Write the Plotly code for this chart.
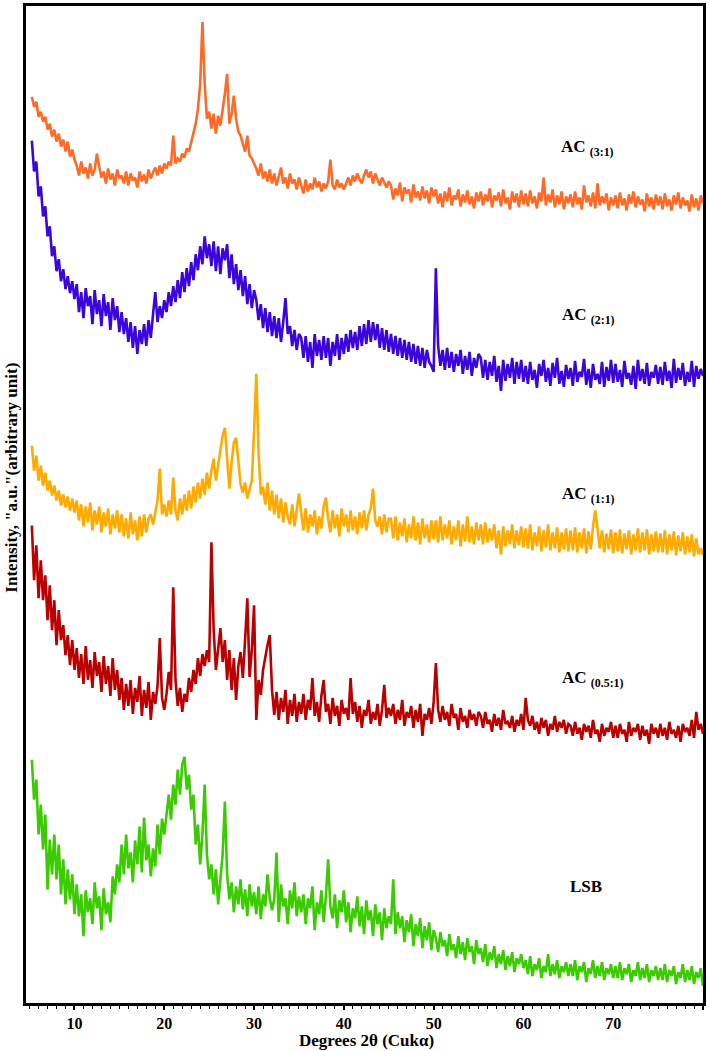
import plotly.graph_objects as go

# 2-theta sampling grid (degrees)
TWO_THETA_START = 5.25
TWO_THETA_STEP = 0.25

# Relative intensities (a.u.), one value per 0.25 deg, 5.25..80.0
ac_3_1 = [
    117,107,112,97,102,92,97,84,90,77,84,72,80,67,74,62,72,57,64,54,
    48,38,52,40,46,35,50,38,44,60,47,36,42,30,45,34,40,28,44,35,
    38,30,42,28,40,33,36,26,42,32,39,30,44,35,41,46,38,48,40,50,
    45,52,48,78,50,55,52,60,56,65,62,72,80,90,105,130,192,130,95,102,
    85,100,80,98,88,102,120,140,90,100,118,95,82,78,70,62,78,58,55,50,
    45,38,50,35,42,32,44,30,40,28,38,46,30,36,25,40,30,34,24,36,
    28,20,34,22,30,24,36,26,32,22,30,25,32,54,28,24,34,26,30,24,
    30,36,28,38,32,40,34,30,38,44,36,42,30,40,34,28,36,30,26,32,
    28,14,25,18,31,12,26,20,24,11,29,16,22,13,27,15,23,10,26,17,
    24,10,20,6,22,12,26,8,18,14,24,7,19,11,23,9,17,5,21,12,
    22,8,19,12,25,6,18,13,21,7,24,10,16,4,22,11,20,6,23,9,
    20,7,23,10,17,5,21,12,36,8,19,11,24,6,18,9,22,4,17,10,
    19,6,22,9,16,4,28,11,18,7,21,5,30,8,17,10,20,3,16,8,
    18,5,21,8,15,3,19,10,22,6,17,9,14,2,20,7,16,4,19,8,
    17,4,20,7,14,3,18,9,21,5,16,8,13,2,19,6,15,3,18,10,
]
ac_2_1 = [
    256,225,235,200,210,180,190,160,170,140,150,125,137,115,127,107,120,103,115,97,
    112,84,104,78,108,90,100,72,106,82,96,70,102,80,94,66,98,76,90,64,
    84,62,78,54,74,48,70,42,66,52,72,50,76,58,82,104,74,90,78,96,
    84,104,90,110,94,116,98,124,104,128,110,134,116,142,126,150,132,160,138,152,
    130,155,125,150,122,148,136,152,118,142,112,132,106,126,100,120,92,112,88,106,
    96,76,92,68,88,64,84,60,80,58,78,54,74,98,62,70,50,66,46,62,
    58,38,60,34,54,28,62,40,56,36,60,38,58,30,54,40,62,36,58,42,
    62,44,66,48,64,46,70,50,72,52,76,54,74,56,72,48,68,46,66,44,
    62,42,60,40,58,38,56,36,54,34,52,32,50,30,48,28,46,34,30,24,
    128,50,30,46,26,48,28,44,24,42,30,46,22,40,26,44,20,38,28,42,
    38,18,36,16,34,20,40,14,30,5,36,15,32,18,38,12,34,17,36,14,
    30,12,34,16,26,8,32,20,36,14,28,10,33,18,38,12,25,9,31,17,
    28,10,35,14,24,19,37,11,27,8,32,16,22,12,34,9,29,15,36,13,
    32,14,26,9,35,17,23,11,30,7,36,15,27,12,33,10,24,18,31,12,
    29,11,34,15,25,8,37,13,28,16,33,10,24,14,35,9,30,17,27,20,
]
ac_1_1 = [
    115,90,105,80,95,75,88,70,80,65,75,60,70,55,66,53,64,50,62,48,
    60,40,56,34,54,38,58,30,50,36,54,28,48,34,52,26,46,32,50,28,
    46,24,42,22,48,26,40,20,44,24,46,28,42,46,36,50,60,92,46,56,
    44,60,46,83,50,40,62,46,66,50,70,52,74,58,78,62,82,66,88,72,
    90,102,80,96,110,125,133,100,72,98,118,123,96,76,68,78,62,72,80,130,
    187,108,66,74,56,78,50,70,46,66,42,62,38,58,44,36,56,34,50,67,
    48,30,52,28,46,34,50,26,44,32,54,63,42,28,50,32,46,24,52,34,
    46,28,50,30,44,26,48,32,50,30,46,52,72,40,34,44,26,46,28,42,
    42,22,44,20,38,24,42,18,36,22,44,20,38,16,42,22,36,18,40,21,
    40,18,44,20,36,22,40,16,34,20,40,14,36,19,44,18,34,16,38,20,
    36,16,38,18,32,20,36,12,30,6,34,14,30,16,36,12,30,15,34,13,
    32,12,36,10,28,14,34,9,30,13,36,10,28,12,33,8,28,11,32,9,
    30,10,33,8,28,12,32,7,29,11,34,50,32,12,30,8,27,11,31,7,
    28,9,31,7,27,11,30,6,26,10,32,8,28,10,31,6,26,9,29,8,
    27,8,30,6,26,10,29,5,25,9,28,6,24,8,26,4,22,6,12,5,
]
ac_05_1 = [
    225,170,205,152,190,150,175,130,165,120,150,105,140,110,125,95,115,85,110,80,
    102,72,96,66,104,70,90,62,98,74,88,58,94,66,84,54,92,60,80,50,
    72,40,66,44,70,36,62,48,74,34,60,42,68,30,58,46,64,112,52,40,
    56,78,60,163,70,44,62,38,56,48,72,58,80,66,92,74,96,84,100,88,
    208,120,80,100,122,88,110,70,100,60,92,50,84,98,72,110,152,73,100,145,
    30,70,55,80,95,105,115,60,35,58,30,52,38,60,26,50,34,56,28,48,
    36,56,30,50,40,72,34,48,28,54,70,38,46,26,52,34,44,24,50,36,
    42,30,72,36,48,28,44,22,40,34,50,26,38,30,46,24,40,65,32,42,
    34,46,26,40,30,50,24,38,32,44,22,40,28,46,14,36,30,42,26,48,
    87,40,28,44,30,38,24,46,32,36,20,42,28,34,22,40,30,36,24,38,
    34,22,38,26,30,18,36,24,32,20,40,26,28,22,34,18,30,24,36,20,
    52,30,24,34,20,28,16,32,22,30,14,26,20,34,18,28,22,30,16,26,
    24,14,28,16,22,10,26,18,24,12,30,16,20,8,26,14,22,18,28,12,
    24,12,26,16,20,8,28,14,22,18,26,10,24,14,20,6,26,16,22,12,
    26,14,22,10,28,16,20,12,24,8,26,18,22,14,30,12,38,20,26,16,
]
lsb = [
    235,195,215,160,190,145,180,105,155,120,160,115,150,100,135,90,125,95,120,80,
    110,78,100,58,104,82,96,70,112,86,98,64,106,80,92,72,118,100,130,112,
    150,120,160,126,142,112,154,130,168,122,177,134,150,118,146,128,170,140,176,160,
    180,200,175,210,190,225,200,230,238,205,220,185,200,150,170,130,160,210,140,115,
    130,100,125,90,115,140,193,120,95,112,82,108,90,115,85,105,78,110,88,102,
    80,108,75,100,88,120,96,84,95,142,72,110,88,96,70,104,86,112,78,98,
    82,100,70,96,86,108,64,92,80,104,72,98,135,88,76,100,66,94,82,104,
    72,92,62,86,76,98,68,88,60,94,74,84,58,90,70,82,54,86,66,78,
    70,115,60,82,66,78,52,74,62,80,48,70,58,76,46,68,54,72,44,64,
    56,42,62,48,54,38,60,44,50,36,58,40,52,34,56,42,48,30,54,40,
    46,32,50,28,42,34,48,26,40,30,44,24,38,28,42,22,36,30,40,26,
    34,20,38,18,30,24,36,16,28,22,40,18,30,20,34,16,28,22,32,18,
    30,18,34,14,28,22,32,12,26,20,34,16,28,18,32,14,26,20,30,16,
    28,16,32,14,26,20,30,12,24,18,32,14,26,16,30,12,24,18,28,14,
    26,14,30,12,24,18,28,10,22,16,30,12,24,14,28,10,22,16,26,8,
]

series_names = ["AC (3:1)", "AC (2:1)", "AC (1:1)", "AC (0.5:1)", "LSB"]
series_values = [ac_3_1, ac_2_1, ac_1_1, ac_05_1, lsb]
label_texts = ["<b>AC <sub>(3:1)</sub></b>", "<b>AC <sub>(2:1)</sub></b>",
               "<b>AC <sub>(1:1)</sub></b>", "<b>AC <sub>(0.5:1)</sub></b>", "<b>LSB</b>"]

# styling / stacking
colors = ["#FF6A26", "#3A06DC", "#FFAA00", "#BB0000", "#3CCB00"]
stack_offsets = [792, 609, 444, 254, 9]
label_px = [(561, 145), (562, 314), (562, 493), (562, 678), (570, 886)]

W, H = 709, 1051
ML, MR, MT, MB = 26, 3, 3, 48
PW, PH = W - ML - MR, H - MT - MB

fig = go.Figure()
for name, vals, col, off in zip(series_names, series_values, colors, stack_offsets):
    xs = [TWO_THETA_START + TWO_THETA_STEP * i for i in range(len(vals))]
    ys = [v + off for v in vals]
    fig.add_trace(go.Scatter(x=xs, y=ys, mode="lines", name=name,
                             line=dict(color=col, width=2.6)))

FONT = "Liberation Serif"
for txt, (px, py) in zip(label_texts, label_px):
    fig.add_annotation(text=txt, xref="paper", yref="paper",
                       x=(px - ML) / PW, y=(H - MB - py) / PH,
                       xanchor="left", yanchor="middle", showarrow=False,
                       font=dict(family=FONT, size=17, color="black"))

fig.add_annotation(text='<b>Intensity, "a.u."(arbitrary unit)</b>', xref="paper", yref="paper",
                   x=(12 - ML) / PW, y=(H - MB - 476) / PH, textangle=-90,
                   xanchor="center", yanchor="middle", showarrow=False,
                   font=dict(family=FONT, size=17, color="black"))

# x-axis title placed just below the tick labels
fig.add_annotation(text="<b>Degrees 2θ (Cukα)</b>", xref="paper", yref="paper",
                   x=(368 - ML) / PW, y=(H - MB - 1051) / PH,
                   xanchor="center", yanchor="bottom", showarrow=False, borderpad=0,
                   font=dict(family=FONT, size=17, color="black"))

fig.update_layout(
    width=W, height=H, margin=dict(l=ML, r=MR, t=MT, b=MB),
    plot_bgcolor="white", paper_bgcolor="white", showlegend=False,
)
fig.update_xaxes(
    range=[4.6, 80.0], showgrid=False, zeroline=False,
    showline=True, mirror=True, linewidth=3, linecolor="black",
    ticks="outside", ticklen=4, tickwidth=1.5, tickcolor="black",
    tick0=10, dtick=10,
    tickfont=dict(family=FONT, size=16, color="black", weight="bold"),
    minor=dict(dtick=1, ticks="outside", ticklen=2.5, tickcolor="black", tickwidth=1),
)
fig.update_yaxes(
    range=[0, PH], showgrid=False, zeroline=False, showticklabels=False,
    showline=True, mirror=True, linewidth=3, linecolor="black", ticks="",
)

fig.write_html("out.html", config={"displayModeBar": False},
               post_script="document.body.style.margin='0';document.body.style.padding='0';")
